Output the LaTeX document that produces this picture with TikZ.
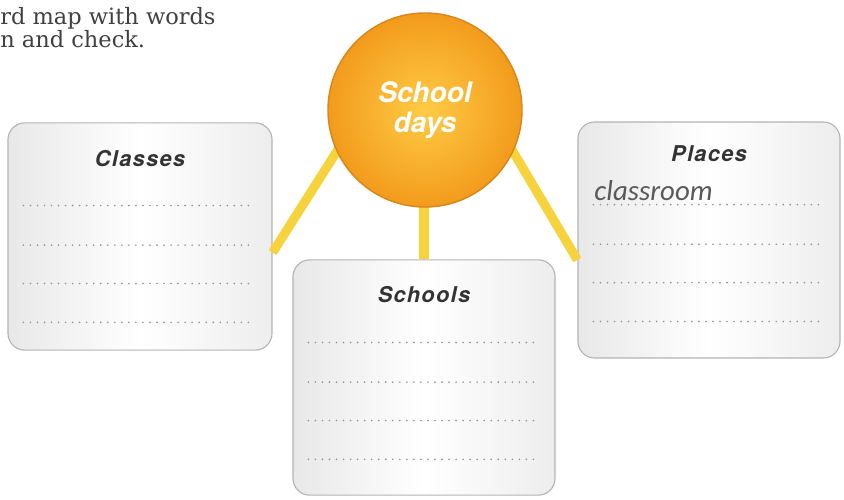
\documentclass[tikz,border=0pt]{standalone}
\usepackage{fontspec}
\usepackage{tikz}
\usetikzlibrary{positioning}
\newfontfamily\headfont{DejaVu Serif}
\newfontfamily\titlefont[LetterSpace=6]{TeX Gyre Heros}
\newfontfamily\hubfont{TeX Gyre Heros}
\newfontfamily\handfont{Carlito}
\definecolor{linkyellow}{HTML}{F6D23C}
\definecolor{hubin}{HTML}{FFCB45}
\definecolor{hubout}{HTML}{F29B1C}
\definecolor{hubedge}{HTML}{D8861A}
\definecolor{boxedge}{HTML}{B4B4B4}
\definecolor{inktext}{HTML}{333333}

\begin{document}
\begin{tikzpicture}[
  x=0.025cm, y=-0.025cm,
  card/.style={draw=boxedge, line width=0.8pt, rounded corners=0.42cm,
    left color=gray!18, right color=gray!14, middle color=white},
  cardtitle/.style={font=\titlefont\bfseries\itshape\fontsize{15.5}{17}\selectfont, text=inktext},
  writeline/.style={gray!85, line width=1.3pt, line cap=round, dash pattern=on 0pt off 5pt},
  link/.style={linkyellow, line width=6.5pt},
  hub/.style={circle, minimum size=4.85cm, draw=hubedge, line width=1pt,
    inner color=hubin, outer color=hubout},
  intro/.style={anchor=base west, inner sep=0, text=black!75, font=\headfont\fontsize{16}{18}\selectfont}
]
  \useasboundingbox (0,0) rectangle (844,500);

  % instruction text, cut off at the left
  \node[intro] (intro1) at (0,24) {rd map with words};
  \node[intro] (intro2) at (0,48) {n and check.};

  % cards
  \node[card, minimum width=6.6cm, minimum height=5.68cm] (classes) at (140,236.5) {};
  \node[card, minimum width=6.55cm, minimum height=5.9cm] (places) at (709,240) {};
  \node[card, minimum width=6.55cm, minimum height=5.88cm] (schools) at (424,377.5) {};

  % connectors
  \draw[link] (425,110) ++(203:2.3cm) -- ([yshift=-0.4cm]classes.east);
  \draw[link] (425,110) ++(-23:2.3cm) -- ([yshift=-0.5cm]places.west);
  \draw[link] (424,150) -- (schools.north);

  % centre
  \node[hub, align=center, text=white, font=\hubfont\bfseries\itshape\fontsize{20}{21}\selectfont] (days) at (425,110) {School\\days};

  % titles
  \node[cardtitle, below=0.58cm of classes.north] (classes-t) {Classes};
  \node[cardtitle, below=0.48cm of places.north] (places-t) {Places};
  \node[cardtitle, below=0.54cm of schools.north] (schools-t) {Schools};

  % dotted writing lines
  \foreach \card in {classes,places,schools}{
    \foreach \d in {2.08,3.07,4.03,5.0}{
      \draw[writeline] ([xshift=0.4cm,yshift=-\d cm]\card.north west) -- ([xshift=-0.45cm,yshift=-\d cm]\card.north east);
    }
  }

  % the filled-in answer
  \node[anchor=base west, inner sep=0, text=black!65, font=\handfont\itshape\fontsize{20.5}{22}\selectfont] (answer) at ([xshift=0.42cm,yshift=-1.98cm]places.north west) {classroom};
\end{tikzpicture}
\end{document}
